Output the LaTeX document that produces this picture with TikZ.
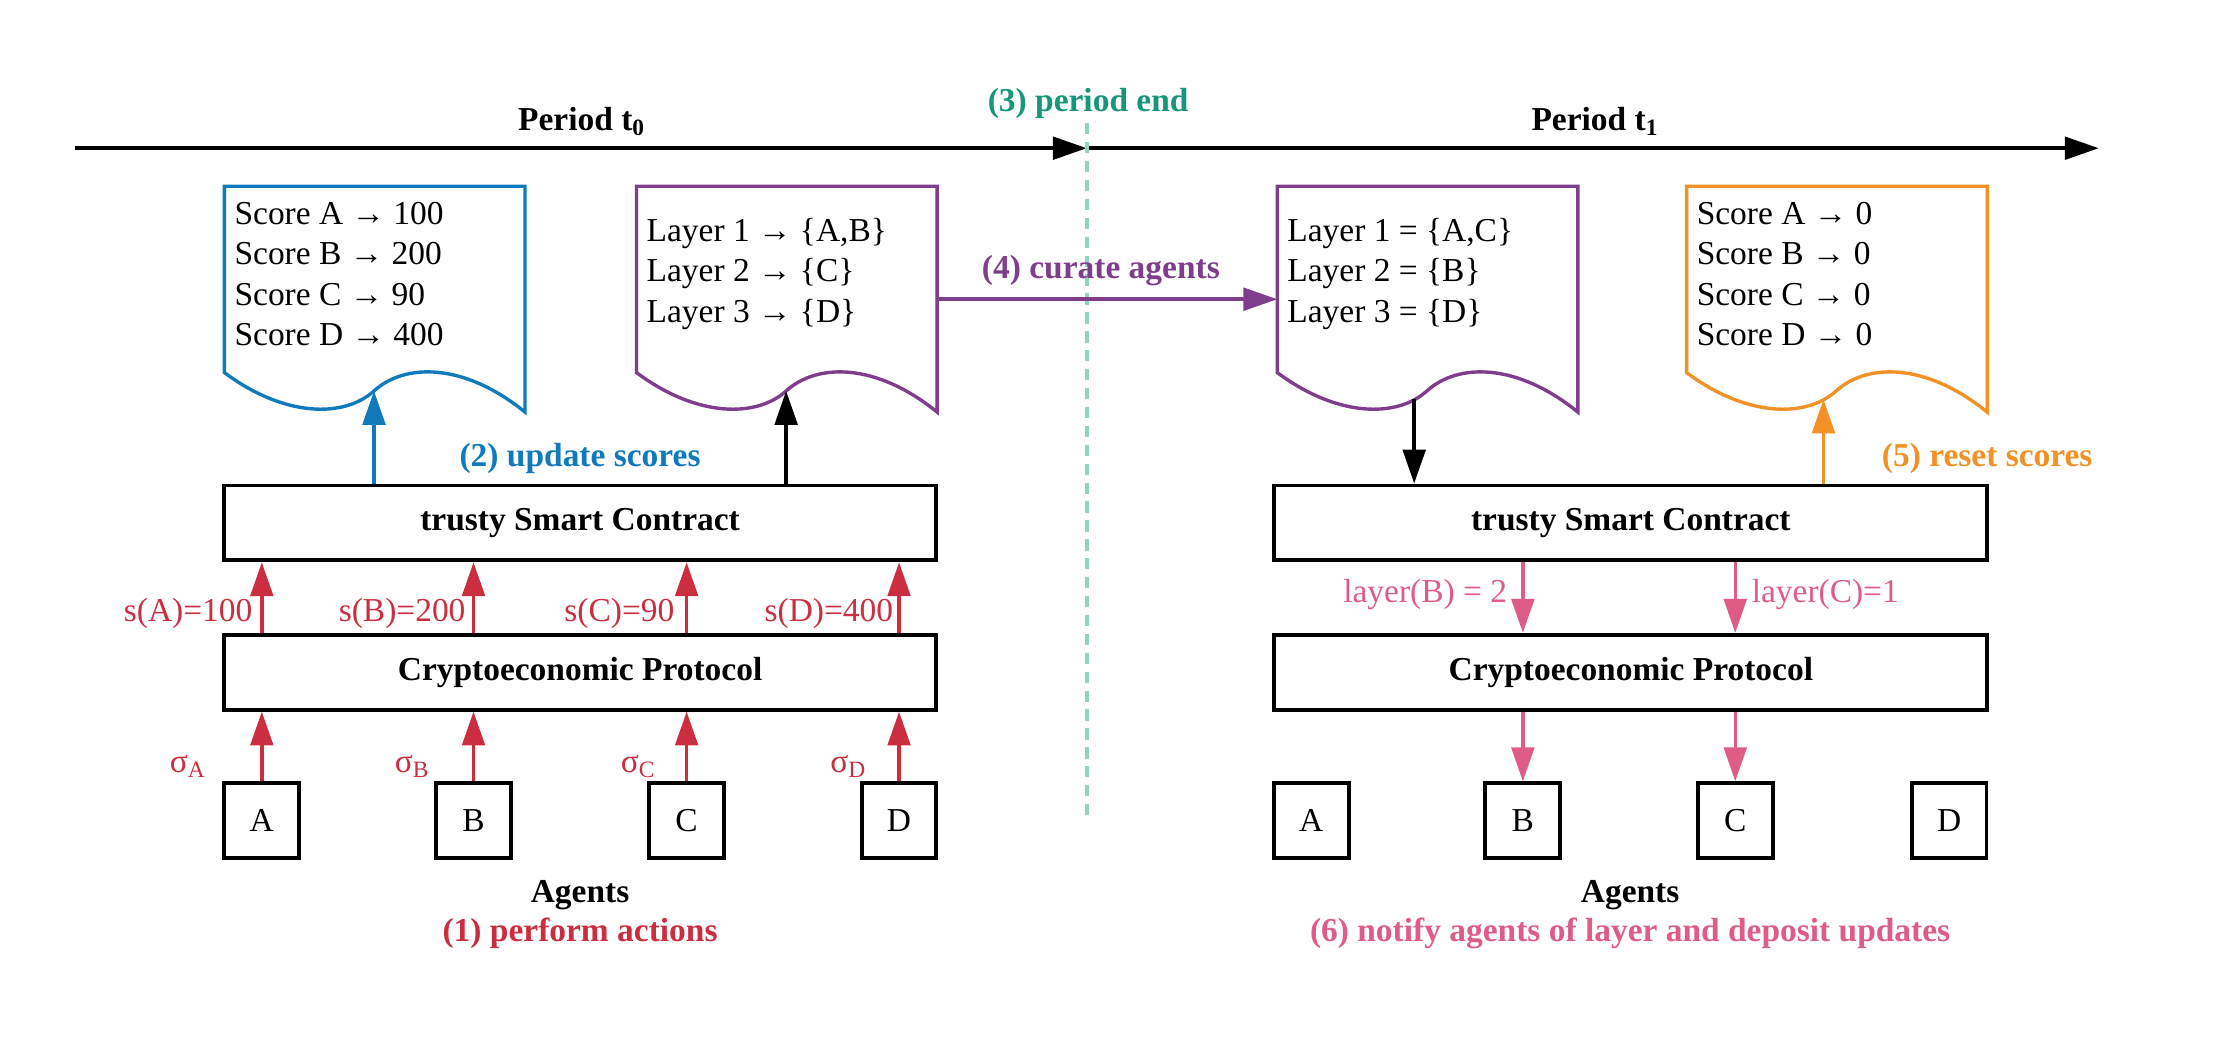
\documentclass[tikz,border=0pt]{standalone}
\usepackage{fontspec}
\setmainfont{Liberation Serif}
\usetikzlibrary{arrows.meta}
\usetikzlibrary{positioning}

\definecolor{scoreblue}{RGB}{16,122,188}
\definecolor{layerpurple}{RGB}{126,62,140}
\definecolor{resetorange}{RGB}{241,145,38}
\definecolor{actred}{RGB}{202,46,64}
\definecolor{notifypink}{RGB}{223,92,134}
\definecolor{endteal}{RGB}{23,150,122}
\definecolor{cutteal}{RGB}{147,211,197}

\tikzset{
  pics/paper/.style={code={
    \draw[pic actions] (0,0) -- (213,0) -- (213,160)
      .. controls (170,125) and (128,125) .. (106,145)
      .. controls (85,164) and (43,164) .. (0,132) -- cycle;
    \coordinate (-wave) at (106,145);
    \coordinate (-dip) at (97,151);
    \coordinate (-west) at (0,80);
    \coordinate (-east) at (213,80);
  }},
}

\begin{document}
\begin{tikzpicture}[x=1pt,y=-1pt,
  txt/.style={font=\fontsize{23.7}{28.7}\selectfont},
  bold/.style={font=\fontsize{23.7}{28.7}\selectfont\bfseries},
  layerbox/.style={bold, draw, line width=2.8pt, minimum width=504pt, minimum height=53pt},
  agent/.style={txt, draw, line width=2.8pt, minimum size=53pt, inner sep=0pt},
  doctext/.style={txt, anchor=west, align=left, inner sep=0pt},
  paperline/.style={line width=2.4pt},
  flow/.style={line width=2.5pt, -{Triangle[length=24pt,width=16pt]}},
  cutline/.style={cutteal, line width=2.8pt, dash pattern=on 8pt off 5.4pt}]
  \useasboundingbox (0,0) rectangle (1568,750);

  % time line
  \coordinate (t0) at (53,105);
  \coordinate (cut) at (770,105);
  \coordinate (t1) at (1487,105);
  \coordinate (cutend) at (770,583);
  \draw[flow] (t0) -- (cut);
  \draw[flow] (cut) -- (t1);
  \node[bold] (per0) at (412,86) {Period t\textsubscript{0}};
  \node[bold] (per1) at (1130,86) {Period t\textsubscript{1}};
  \node[bold, text=endteal] (pend) at (771,73) {(3) period end};
  \draw[cutline] (cut |- pend.south) -- (cutend);

  % period t0
  \pic[draw=scoreblue, paperline] (sc0) at (159,132) {paper};
  \node[doctext] (sc0t) at (166,194) {Score A → 100\\Score B → 200\\Score C → 90\\Score D → 400};
  \pic[draw=layerpurple, paperline] (ly0) at (451,132) {paper};
  \node[doctext] (ly0t) at (458,194) {Layer 1 → \{A,B\}\\Layer 2 → \{C\}\\Layer 3 → \{D\}};

  \node[layerbox] (sm0) at (411,370.5) {trusty Smart Contract};
  \node[layerbox, below=50pt of sm0] (cp0) {Cryptoeconomic Protocol};
  \draw[flow, scoreblue] (sm0.north -| sc0-wave) -- (sc0-wave);
  \draw[flow] (sm0.north -| ly0-wave) -- (ly0-wave);
  \node[bold, text=scoreblue] (upd) at (411,325) {(2) update scores};

  \foreach \a/\x in {A/185.5,B/335.5,C/486.5,D/637} {
    \node[agent] (ag0\a) at (\x,581.5) {\a};
    \draw[flow, actred] (ag0\a) -- (ag0\a |- cp0.south);
    \draw[flow, actred] (ag0\a |- cp0.north) -- (ag0\a |- sm0.south);
  }
  \foreach \a/\x/\v in {A/179/100,B/330/200,C/478/90,D/633/400}
    \node[txt, text=actred, anchor=east, inner sep=0pt] (s\a) at (\x,435) {s(\a)=\v};
  \foreach \a/\x in {A/133,B/292,C/452,D/601}
    \node[txt, text=actred, inner sep=0pt] (sig\a) at (\x,543) {σ\textsubscript{\a}};
  \node[bold] (ag0lbl) at (411,634) {Agents};
  \node[bold, text=actred] (act) at (411,661) {(1) perform actions};

  % period t1
  \pic[draw=layerpurple, paperline] (ly1) at (905,132) {paper};
  \node[doctext] (ly1t) at (912,194) {Layer 1 = \{A,C\}\\Layer 2 = \{B\}\\Layer 3 = \{D\}};
  \pic[draw=resetorange, paperline] (sc1) at (1195,132) {paper};
  \node[doctext] (sc1t) at (1202,194) {Score A → 0\\Score B → 0\\Score C → 0\\Score D → 0};
  \draw[flow, layerpurple] (ly0-east) -- (ly1-west);
  \node[bold, text=layerpurple] (cur) at (780,192) {(4) curate agents};

  \node[layerbox, minimum width=505pt] (sm1) at (1155.5,370.5) {trusty Smart Contract};
  \node[layerbox, minimum width=505pt, below=50pt of sm1] (cp1) {Cryptoeconomic Protocol};
  \draw[flow] (ly1-dip) -- (ly1-dip |- sm1.north);
  \draw[flow, resetorange] (sm1.north -| sc1-dip) -- (sc1-dip);
  \node[bold, text=resetorange] (rst) at (1408,325) {(5) reset scores};

  \foreach \a/\x in {A/929,B/1079,C/1229.5,D/1381}
    \node[agent] (ag1\a) at (\x,581.5) {\a};
  \foreach \a in {B,C} {
    \draw[flow, notifypink] (ag1\a |- sm1.south) -- (ag1\a |- cp1.north);
    \draw[flow, notifypink] (ag1\a |- cp1.south) -- (ag1\a);
  }
  \node[txt, text=notifypink, anchor=east, inner sep=0pt] (lyB) at (1068,421) {layer(B) = 2};
  \node[txt, text=notifypink, anchor=west, inner sep=0pt] (lyC) at (1241,421) {layer(C)=1};
  \node[bold] (ag1lbl) at (1155,634) {Agents};
  \node[bold, text=notifypink] (ntf) at (1155,661) {(6) notify agents of layer and deposit updates};
\end{tikzpicture}
\end{document}
